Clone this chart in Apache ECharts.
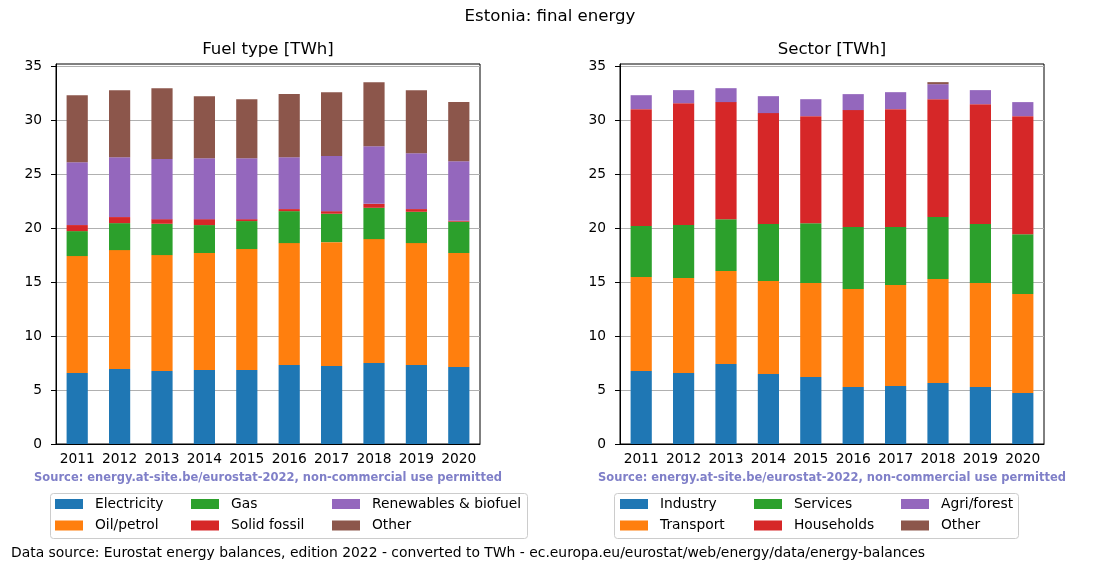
<!DOCTYPE html>
<html>
<head>
<meta charset="utf-8">
<script src="https://cdn.jsdelivr.net/npm/echarts@6/dist/echarts.min.js"></script>
<style>
html,body{margin:0;padding:0;background:#fff;}
#chart{width:1100px;height:572px;}
</style>
</head>
<body>
<div id="chart"></div>
<script>
const years = ['2011','2012','2013','2014','2015','2016','2017','2018','2019','2020'];

// Fuel type [TWh]
const electricity = [6.57, 6.94, 6.76, 6.85, 6.85, 7.31, 7.22, 7.50, 7.31, 7.13];
const oilPetrol   = [10.84, 11.02, 10.74, 10.84, 11.21, 11.30, 11.48, 11.48, 11.30, 10.56];
const gas         = [2.31, 2.50, 2.90, 2.59, 2.59, 2.96, 2.63, 2.90, 2.90, 2.90];
const solidFossil = [0.56, 0.56, 0.43, 0.55, 0.18, 0.19, 0.24, 0.37, 0.25, 0.09];
const renewables  = [5.83, 5.55, 5.56, 5.65, 5.65, 4.81, 5.10, 5.34, 5.18, 5.52];
const otherFuel   = [6.20, 6.21, 6.57, 5.74, 5.46, 5.84, 5.92, 5.93, 5.84, 5.47];

// Sector [TWh]
const industry    = [6.76, 6.57, 7.41, 6.48, 6.20, 5.28, 5.37, 5.65, 5.28, 4.72];
const transport   = [8.70, 8.80, 8.61, 8.61, 8.71, 9.07, 9.35, 9.63, 9.63, 9.17];
const services    = [4.73, 4.91, 4.81, 5.28, 5.55, 5.74, 5.37, 5.74, 5.46, 5.55];
const households  = [10.83, 11.29, 10.84, 10.28, 9.91, 10.84, 10.93, 10.92, 11.11, 10.93];
const agriForest  = [1.29, 1.21, 1.29, 1.57, 1.57, 1.48, 1.57, 1.39, 1.30, 1.30];
const otherSector = [0, 0, 0, 0, 0, 0, 0, 0.19, 0, 0];

const yTicks = [0, 5, 10, 15, 20, 25, 30, 35];

const mainTitle = 'Estonia: final energy';
const leftTitle = 'Fuel type [TWh]';
const rightTitle = 'Sector [TWh]';
const sourceText = 'Source: energy.at-site.be/eurostat-2022, non-commercial use permitted';
const footerText = 'Data source: Eurostat energy balances, edition 2022 - converted to TWh - ec.europa.eu/eurostat/web/energy/data/energy-balances';

const C = ['#1f77b4', '#ff7f0e', '#2ca02c', '#d62728', '#9467bd', '#8c564b'];
const FONT = 'DejaVu Sans';

const fuelSeries = [
  ['Electricity', electricity], ['Oil/petrol', oilPetrol], ['Gas', gas],
  ['Solid fossil', solidFossil], ['Renewables & biofuel', renewables], ['Other', otherFuel]
];
const sectorSeries = [
  ['Industry', industry], ['Transport', transport], ['Services', services],
  ['Households', households], ['Agri/forest', agriForest], ['Other', otherSector]
];

const chart = echarts.init(document.getElementById('chart'), null, {renderer: 'canvas'});

const grids = [
  {left: 56, top: 64, width: 424, height: 380, show: true, borderColor: '#000', borderWidth: 1, backgroundColor: 'transparent'},
  {left: 620, top: 64, width: 424, height: 380, show: true, borderColor: '#000', borderWidth: 1, backgroundColor: 'transparent'}
];

function xAxis(i) {
  return {
    type: 'category', gridIndex: i, data: years,
    axisLine: {lineStyle: {color: '#000', width: 1}},
    axisTick: {alignWithLabel: true, interval: 0, length: 5, lineStyle: {color: '#000'}},
    axisLabel: {color: '#000', fontFamily: FONT, fontSize: 13.8, margin: 8, interval: 0, hideOverlap: false},
    splitLine: {show: false}
  };
}
function yAxis(i) {
  return {
    type: 'value', gridIndex: i, min: 0, max: 35.2, interval: 5,
    axisLine: {show: true, lineStyle: {color: '#000', width: 1}},
    axisTick: {show: true, length: 5, lineStyle: {color: '#000'},
      customValues: yTicks},
    axisLabel: {color: '#000', fontFamily: FONT, fontSize: 13.8, margin: 14,
      customValues: yTicks,
      formatter: v => (yTicks.indexOf(v) >= 0 ? String(v) : '')},
    splitLine: {show: true, lineStyle: {color: '#b0b0b0', width: 1}}
  };
}

const series = [];
fuelSeries.forEach((s, k) => series.push({
  name: s[0], type: 'bar', stack: 'fuel', xAxisIndex: 0, yAxisIndex: 0,
  data: s[1], barWidth: '50%', itemStyle: {color: C[k]}, emphasis: {disabled: true}
}));
sectorSeries.forEach((s, k) => series.push({
  name: s[0], type: 'bar', stack: 'sector', xAxisIndex: 1, yAxisIndex: 1,
  data: s[1], barWidth: '50%', itemStyle: {color: C[k]}, emphasis: {disabled: true}
}));

function legend(names, left) {
  return {
    orient: 'vertical', left: left, top: 497, padding: 0,
    itemWidth: 28, itemHeight: 10, itemGap: 7.5, icon: 'rect',
    selectedMode: false,
    textStyle: {color: '#000', fontFamily: FONT, fontSize: 13.8, lineHeight: 14, padding: [0, 0, 0, 7]},
    data: names
  };
}

const legends = [
  legend(['Electricity', 'Oil/petrol'], 55),
  legend(['Gas', 'Solid fossil'], 191),
  legend(['Renewables & biofuel', 'Other'], 332),
  legend(['Industry', 'Transport'], 620),
  legend(['Services', 'Households'], 754),
  legend(['Agri/forest', 'Other'], 901)
];

const txt = (x, y, text, size, align, extra) => Object.assign({
  type: 'text', x: x, y: y, silent: true,
  style: Object.assign({text: text, fill: '#000', fontFamily: FONT, fontSize: size, align: align, verticalAlign: 'middle'}, extra || {})
});

const graphic = [
  {type: 'rect', shape: {x: 50.5, y: 493.5, width: 477, height: 45, r: 3}, style: {fill: 'rgba(255,255,255,0.8)', stroke: '#cccccc', lineWidth: 1}, z: -1, silent: true},
  {type: 'rect', shape: {x: 614.5, y: 493.5, width: 404, height: 45, r: 3}, style: {fill: 'rgba(255,255,255,0.8)', stroke: '#cccccc', lineWidth: 1}, z: -1, silent: true},
  txt(550, 17, mainTitle, 16.6, 'center'),
  txt(268, 50, leftTitle, 16.6, 'center'),
  txt(832, 50, rightTitle, 16.6, 'center'),
  txt(268, 478, sourceText, 11.5, 'center', {fill: '#7f7fc8', fontWeight: 'bold'}),
  txt(832, 478, sourceText, 11.5, 'center', {fill: '#7f7fc8', fontWeight: 'bold'}),
  txt(11, 553, footerText, 13.9, 'left')
];

chart.setOption({
  animation: false,
  backgroundColor: '#fff',
  grid: grids,
  xAxis: [xAxis(0), xAxis(1)],
  yAxis: [yAxis(0), yAxis(1)],
  legend: legends,
  series: series,
  graphic: graphic
});
</script>
</body>
</html>
